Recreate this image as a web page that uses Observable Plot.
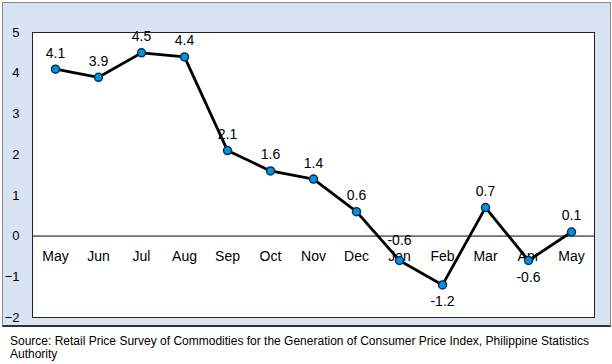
<!DOCTYPE html>
<html>
<head>
<meta charset="utf-8">
<script src="https://cdn.jsdelivr.net/npm/d3@7"></script>
<script src="https://cdn.jsdelivr.net/npm/@observablehq/plot@0.6"></script>
<style>
  body { margin: 0; width: 612px; height: 364px; position: relative; font-family: Arial, "Liberation Sans", sans-serif; background: white; overflow: hidden; }
  #box { position: absolute; left: 2px; top: 2px; width: 607px; height: 322px; background: #dae3f3; border-left: 1px solid #8a8a8a; border-top: 1px solid #8a8a8a; border-right: 1px solid #8a8a8a; border-bottom: 2px solid #333; }
  #chart { position: absolute; left: 0; top: 0; }
  #caption { position: absolute; left: 10px; top: 335px; width: 592px; font-size: 12px; line-height: 13px; color: #000; }
</style>
</head>
<body>
<div id="box"></div>
<div id="chart"></div>
<div id="caption">Source: Retail Price Survey of Commodities for the Generation of Consumer Price Index, Philippine Statistics Authority</div>
<script>
const months = ["May","Jun","Jul","Aug","Sep","Oct","Nov","Dec","Jan","Feb","Mar","Apr","May"];
const values = [4.1, 3.9, 4.5, 4.4, 2.1, 1.6, 1.4, 0.6, -0.6, -1.2, 0.7, -0.6, 0.1];
const labelPlacement = ["above","above","above","above","above","above","above","above","high","below","above","below","above"];
const yTicks = [-2, -1, 0, 1, 2, 3, 4, 5];

const data = values.map((v, i) => ({i, month: months[i], value: v, place: labelPlacement[i]}));
const fmt = d => d.value.toFixed(1);

const chart = Plot.plot({
  width: 612,
  height: 330,
  marginLeft: 32,
  marginTop: 32,
  marginRight: 18,
  marginBottom: 13,
  style: {background: "transparent", fontFamily: "Arial, 'Liberation Sans', sans-serif", color: "#000"},
  x: {type: "point", domain: d3.range(months.length), padding: 0.5, axis: null},
  y: {domain: [-2, 5], axis: null},
  marks: [
    Plot.frame({fill: "white", stroke: null}),
    Plot.axisY(yTicks, {tickSize: 0, tickPadding: 13, fontSize: 13, anchor: "left", fill: "#000", label: null}),
    Plot.ruleY([0], {stroke: "#000", strokeWidth: 1}),
    Plot.text(data, {x: "i", y: () => 0, text: "month", dy: 20, fontSize: 14, fill: "#000"}),
    Plot.line(data, {x: "i", y: "value", stroke: "#000", strokeWidth: 2.8}),
    Plot.dot(data, {x: "i", y: "value", r: 4, fill: "#0094d8", stroke: "#0b2d5e", strokeWidth: 1.5}),
    Plot.text(data.filter(d => d.place === "above"), {x: "i", y: "value", text: fmt, dy: -16, fontSize: 14, fill: "#000"}),
    Plot.text(data.filter(d => d.place === "high"), {x: "i", y: "value", text: fmt, dy: -20, fontSize: 14, fill: "#000"}),
    Plot.text(data.filter(d => d.place === "below"), {x: "i", y: "value", text: fmt, dy: 17, fontSize: 14, fill: "#000"}),
    Plot.frame({stroke: "#222", strokeWidth: 1})
  ]
});
document.getElementById("chart").appendChild(chart);
</script>
</body>
</html>
